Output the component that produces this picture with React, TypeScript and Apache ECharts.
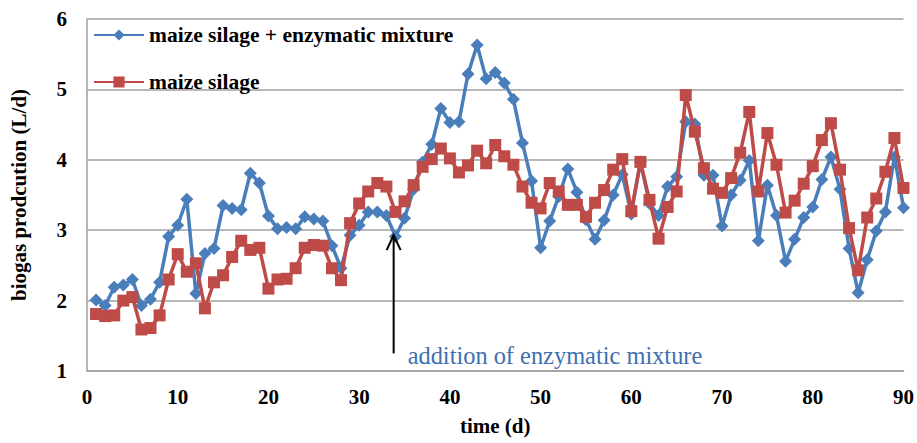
import React, { useEffect, useRef } from "react";
import * as echarts from "echarts";

const blueName = "maize silage + enzymatic mixture";
const redName = "maize silage";

const blueValues = [
  2.01, 1.93, 2.19, 2.22, 2.3, 1.93, 2.02, 2.26, 2.91, 3.07,
  3.44, 2.1, 2.67, 2.74, 3.35, 3.31, 3.29, 3.81, 3.67, 3.2,
  3.02, 3.04, 3.02, 3.19, 3.16, 3.13, 2.78, 2.46, 2.93, 3.07,
  3.26, 3.26, 3.21, 2.91, 3.17, 3.58, 3.97, 4.22, 4.73, 4.53,
  4.54, 5.22, 5.63, 5.15, 5.24, 5.09, 4.86, 4.24, 3.7, 2.75,
  3.13, 3.48, 3.87, 3.54, 3.15, 2.87, 3.14, 3.5, 3.79, 3.23,
  3.97, 3.38, 3.21, 3.62, 3.76, 4.54, 4.51, 3.78, 3.78, 3.06,
  3.5, 3.71, 3.99, 2.85, 3.64, 3.21, 2.56, 2.87, 3.18, 3.33,
  3.72, 4.04, 3.58, 2.74, 2.11, 2.58, 2.99, 3.26, 4.04, 3.32,
];

const redValues = [
  1.81, 1.78, 1.79, 2.0, 2.05, 1.59, 1.61, 1.79, 2.3, 2.66,
  2.41, 2.53, 1.89, 2.26, 2.36, 2.62, 2.85, 2.72, 2.75, 2.17,
  2.3, 2.31, 2.46, 2.75, 2.79, 2.78, 2.46, 2.29, 3.1, 3.38,
  3.55, 3.67, 3.62, 3.26, 3.41, 3.64, 3.9, 4.01, 4.16, 4.02,
  3.82, 3.92, 4.13, 3.95, 4.21, 4.05, 3.93, 3.62, 3.39, 3.31,
  3.67, 3.55, 3.36, 3.36, 3.19, 3.39, 3.57, 3.86, 4.01, 3.27,
  3.97, 3.43, 2.88, 3.33, 3.55, 4.92, 4.4, 3.88, 3.59, 3.53,
  3.74, 4.1, 4.68, 3.55, 4.38, 3.93, 3.25, 3.42, 3.66, 3.91,
  4.28, 4.52, 3.86, 3.03, 2.43, 3.18, 3.45, 3.83, 4.31, 3.6,
];

const xAxisName = "time (d)";
const yAxisName = "biogas prodcution (L/d)";
const annotationText = "addition of enzymatic mixture";
const annotationDay = 33.8;
const annotationTipValue = 2.93;
const annotationTailValue = 1.25;

const FONT = "'Liberation Serif', 'Times New Roman', serif";
const BLUE = "#4A7EBB";
const RED = "#BE4B48";
const GRID = "#A0A0A0";

export default function App() {
  const ref = useRef<HTMLDivElement>(null);

  useEffect(() => {
    const chart = echarts.init(ref.current!, null, { renderer: "svg" });
    const toPairs = (vals: number[]) => vals.map((v, i) => [i + 1, v]);

    chart.setOption({
      animation: false,
      backgroundColor: "#ffffff",
      grid: { left: 87, right: 12, top: 19, bottom: 72, containLabel: false },
      legend: {
        orient: "vertical",
        left: 88,
        top: 18,
        itemWidth: 50,
        itemHeight: 14,
        itemGap: 23,
        data: [blueName, redName],
        textStyle: {
          fontFamily: FONT,
          fontWeight: "bold",
          fontSize: 21.5,
          lineHeight: 24,
          color: "#000",
        },
      },
      xAxis: {
        type: "value",
        min: 0,
        max: 90,
        interval: 10,
        name: xAxisName,
        nameLocation: "middle",
        nameGap: 44,
        nameTextStyle: { fontFamily: FONT, fontWeight: "bold", fontSize: 21, color: "#000" },
        axisLine: { show: true, lineStyle: { color: GRID, width: 1.5 } },
        axisTick: { show: false },
        splitLine: { show: false },
        axisLabel: { fontFamily: FONT, fontWeight: "bold", fontSize: 21, color: "#000", margin: 15 },
      },
      yAxis: {
        type: "value",
        min: 1,
        max: 6,
        interval: 1,
        name: yAxisName,
        nameLocation: "middle",
        nameGap: 58,
        nameTextStyle: { fontFamily: FONT, fontWeight: "bold", fontSize: 21, color: "#000" },
        axisLine: { show: true, lineStyle: { color: GRID, width: 1.5 } },
        axisTick: { show: false },
        splitLine: { show: true, lineStyle: { color: GRID, width: 1.5 } },
        axisLabel: { fontFamily: FONT, fontWeight: "bold", fontSize: 21, color: "#000", margin: 20 },
      },
      series: [
        {
          name: blueName,
          type: "line",
          data: toPairs(blueValues),
          symbol: "diamond",
          symbolSize: 13,
          lineStyle: { color: BLUE, width: 3.5 },
          itemStyle: { color: BLUE },
          z: 2,
        },
        {
          name: redName,
          type: "line",
          data: toPairs(redValues),
          symbol: "rect",
          symbolSize: 12,
          lineStyle: { color: RED, width: 3.5 },
          itemStyle: { color: RED },
          z: 3,
        },
      ],
    });

    const tip = chart.convertToPixel({ gridIndex: 0 }, [annotationDay, annotationTipValue]) as number[];
    const tail = chart.convertToPixel({ gridIndex: 0 }, [annotationDay, annotationTailValue]) as number[];

    chart.setOption({
      graphic: [
        {
          type: "line",
          z: 10,
          shape: { x1: tail[0], y1: tail[1], x2: tip[0], y2: tip[1] },
          style: { stroke: "#000", lineWidth: 2 },
        },
        {
          type: "polyline",
          z: 10,
          shape: { points: [[tip[0] - 7, tip[1] + 15], [tip[0], tip[1]], [tip[0] + 7, tip[1] + 15]] },
          style: { stroke: "#000", lineWidth: 2, fill: "none" },
        },
        {
          type: "text",
          z: 10,
          x: tip[0] + 14,
          y: tail[1] + 2,
          style: {
            text: annotationText,
            fontFamily: FONT,
            fontSize: 24.4,
            fill: "#3E6FB0",
            verticalAlign: "middle",
            align: "left",
          },
        },
      ],
    });

    return () => chart.dispose();
  }, []);

  return (
    <div
      ref={ref}
      style={{ position: "fixed", left: 0, top: 0, width: 917, height: 443, background: "#fff" }}
    />
  );
}
